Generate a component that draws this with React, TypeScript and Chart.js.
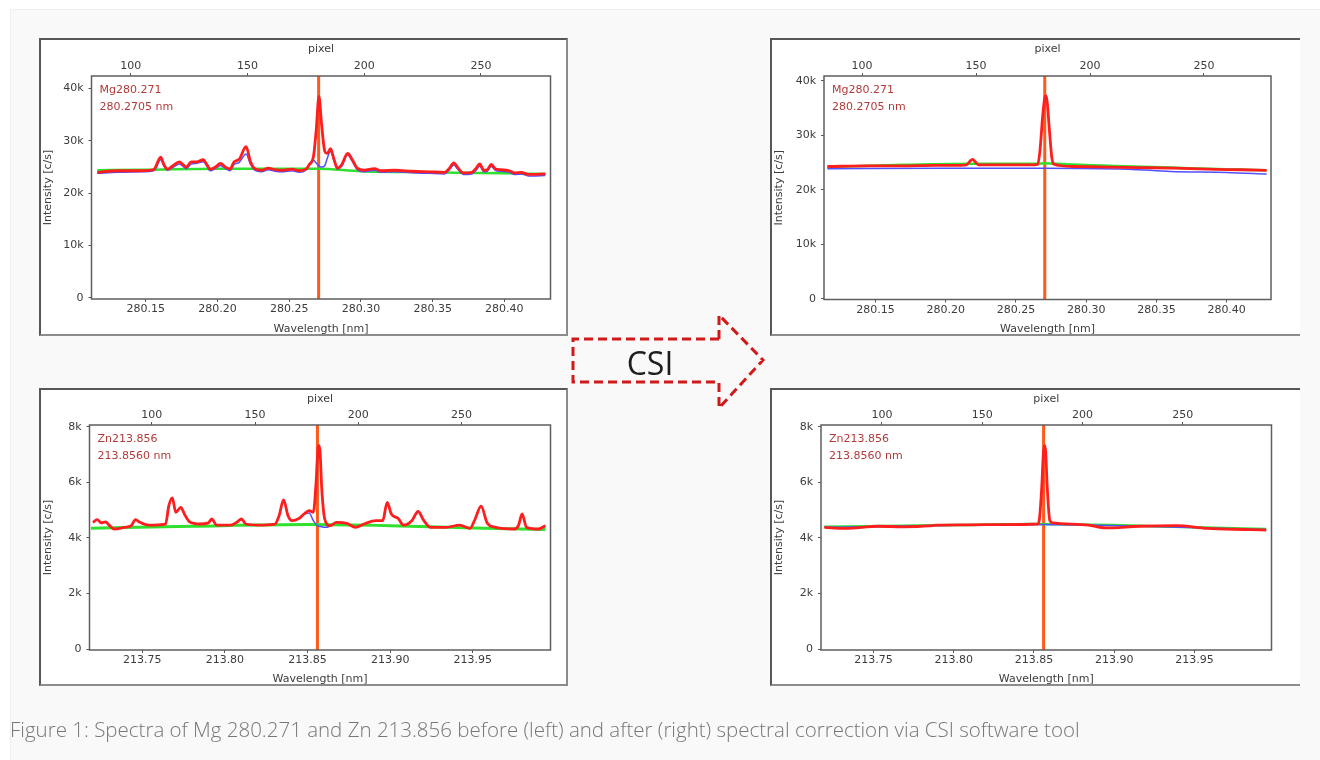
import React, { useEffect, useRef } from 'react';
import { Chart, registerables } from 'chart.js';

Chart.register(...registerables);

// ---------------- Data ----------------
const mgWlTicks = [280.15, 280.2, 280.25, 280.3, 280.35, 280.4];
const znWlTicks = [213.75, 213.8, 213.85, 213.9, 213.95];
const pixelTicks = [100, 150, 200, 250];
const mgIntensityTicks = [0, 10000, 20000, 30000, 40000];
const znIntensityTicks = [0, 2000, 4000, 6000, 8000];

const mgLineWl = 280.2705;
const znLineWl = 213.856;
const mgLabels = ['Mg280.271', '280.2705 nm'];
const znLabels = ['Zn213.856', '213.8560 nm'];

// Mg 280.271 before correction
const mgBeforeWl = [
  280.1161, 280.1304, 280.1471, 280.1555, 280.1567, 280.1603, 280.1626, 280.165, 280.1686, 280.1734,
  280.1758, 280.1781, 280.1817, 280.1853, 280.1901, 280.1925, 280.1948, 280.1984, 280.202, 280.2056,
  280.2087, 280.2115, 280.2151, 280.2199, 280.223, 280.2259, 280.2306, 280.2354, 280.2402, 280.2449,
  280.2521, 280.2569, 280.2616, 280.264, 280.2669, 280.2688, 280.2707, 280.2726, 280.2748, 280.2764,
  280.2788, 280.2812, 280.2836, 280.2867, 280.2907, 280.2938, 280.2974, 280.3022, 280.3094, 280.3141,
  280.3237, 280.3356, 280.3475, 280.3583, 280.3618, 280.3647, 280.3678, 280.3714, 280.3773, 280.3804,
  280.3828, 280.3857, 280.3881, 280.3909, 280.394, 280.3976, 280.4036, 280.4072, 280.4119, 280.4167,
  280.4286,
];
const mgBeforeRed = [
  24000, 24300, 24300, 24500, 25000, 26900, 25500, 24600, 25200, 26000,
  25500, 25000, 26000, 26000, 26400, 25500, 24600, 25000, 25700, 25000,
  24600, 26000, 26500, 28900, 26000, 24700, 24400, 24800, 24500, 24400,
  24600, 24300, 24600, 25500, 27000, 32000, 38500, 33000, 28000, 27600,
  28500, 26500, 24800, 25500, 27600, 26500, 24800, 24400, 24700, 24300,
  24400, 24200, 24100, 24000, 24800, 25800, 24800, 23900, 24000, 24800,
  25600, 24400, 24500, 25500, 24600, 24500, 24300, 23900, 24000, 23600,
  23700,
];
const mgBeforeBlue = [
  23800, 24000, 24100, 24300, 24600, 26400, 25200, 24400, 24900, 25600,
  25200, 24700, 25600, 25700, 26000, 25200, 24300, 24700, 25300, 24700,
  24300, 25500, 25900, 27500, 25500, 24400, 24100, 24500, 24200, 24100,
  24300, 24000, 24400, 25400, 26300, 25800, 25200, 25000, 25300, 26600,
  28000, 26200, 24600, 25200, 27300, 26200, 24500, 24100, 24400, 24000,
  24100, 23900, 23800, 23700, 24500, 25400, 24500, 23600, 23700, 24400,
  25200, 24100, 24200, 25100, 24300, 24200, 24000, 23600, 23700, 23300,
  23400,
];
const mgBeforeGreenWl = [280.1161, 280.15, 280.2, 280.27, 280.3, 280.35, 280.4, 280.4286];
const mgBeforeGreen = [24400, 24500, 24700, 24700, 24200, 24000, 23800, 23700];

// Mg 280.271 after correction
const mgAfterWl = [
  280.1157, 280.145, 280.1688, 280.193, 280.205, 280.2147, 280.217, 280.2191, 280.2212, 280.2232,
  280.2413, 280.26, 280.2655, 280.2672, 280.269, 280.2705, 280.2713, 280.2722, 280.2738, 280.2755,
  280.2771, 280.2896, 280.3138, 280.3379, 280.3621, 280.3862, 280.4104, 280.4285,
];
const mgAfterRed = [
  24300, 24400, 24400, 24500, 24500, 24600, 25200, 25600, 25100, 24600,
  24600, 24600, 24700, 27500, 33500, 36900, 37300, 36200, 31000, 26000,
  24700, 24300, 24200, 24100, 24000, 23800, 23700, 23600,
];
const mgAfterGreenWl = [280.1157, 280.17, 280.22, 280.265, 280.271, 280.285, 280.32, 280.36, 280.4, 280.4285];
const mgAfterGreen = [24200, 24600, 24800, 24800, 24900, 24700, 24400, 24100, 23800, 23600];
const mgAfterBlueWl = [280.1157, 280.2, 280.27, 280.33, 280.36, 280.4, 280.4285];
const mgAfterBlue = [23900, 24000, 24000, 23800, 23400, 23200, 22900];

// Zn 213.856 before correction
const znBeforeWl = [
  213.7202, 213.7227, 213.7252, 213.7278, 213.7299, 213.733, 213.7392, 213.7434, 213.7459, 213.7486,
  213.7537, 213.7641, 213.7661, 213.7682, 213.7703, 213.7734, 213.7755, 213.7786, 213.7848, 213.79,
  213.792, 213.7951, 213.8034, 213.8076, 213.81, 213.8127, 213.82, 213.8303, 213.8328, 213.8355,
  213.8382, 213.8407, 213.8448, 213.8479, 213.851, 213.8535, 213.8552, 213.856, 213.8568, 213.8576,
  213.8585, 213.8604, 213.8635, 213.8676, 213.8738, 213.879, 213.8842, 213.8914, 213.8955, 213.8982,
  213.9007, 213.9049, 213.908, 213.9131, 213.9169, 213.9204, 213.9245, 213.9338, 213.9421, 213.9483,
  213.9514, 213.955, 213.9587, 213.9639, 213.9753, 213.9777, 213.9798, 213.9825, 213.9898, 213.9939,
];
const znBeforeRed = [
  4560, 4660, 4540, 4580, 4460, 4320, 4380, 4440, 4660, 4560,
  4460, 4500, 5160, 5440, 4920, 5100, 4860, 4580, 4500, 4540,
  4680, 4460, 4460, 4580, 4680, 4500, 4460, 4500, 4800, 5370,
  4800, 4620, 4700, 4860, 4980, 4920, 6010, 6900, 7330, 7100,
  5890, 4680, 4440, 4560, 4520, 4380, 4500, 4620, 4620, 5280,
  4860, 4700, 4460, 4620, 4950, 4620, 4380, 4380, 4460, 4340,
  4680, 5140, 4540, 4380, 4320, 4460, 4860, 4380, 4320, 4440,
];
const znBeforeBlue = [
  4560, 4660, 4540, 4580, 4460, 4320, 4380, 4440, 4660, 4560,
  4460, 4500, 5160, 5440, 4920, 5100, 4860, 4580, 4500, 4540,
  4680, 4460, 4460, 4580, 4680, 4500, 4460, 4500, 4800, 5370,
  4800, 4620, 4700, 4860, 4900, 4620, 4480, 4450, 4420, 4410,
  4400, 4380, 4420, 4560, 4520, 4380, 4500, 4620, 4620, 5280,
  4860, 4700, 4460, 4620, 4950, 4620, 4380, 4380, 4460, 4340,
  4680, 5140, 4540, 4380, 4320, 4460, 4860, 4380, 4320, 4440,
];
const znBeforeGreenWl = [213.719, 213.78, 213.85, 213.9, 213.95, 213.994];
const znBeforeGreen = [4350, 4420, 4480, 4440, 4360, 4300];

// Zn 213.856 after correction
const znAfterWl = [
  213.7194, 213.7321, 213.7532, 213.7679, 213.7848, 213.789, 213.8101, 213.8312, 213.8523, 213.8534,
  213.8549, 213.8558, 213.8565, 213.8573, 213.8582, 213.8599, 213.8618, 213.884, 213.8945, 213.9156,
  213.9388, 213.9578, 213.9852, 213.9947,
];
const znAfterRed = [
  4380, 4340, 4420, 4400, 4430, 4460, 4470, 4480, 4500, 4680,
  5890, 7000, 7330, 7100, 5890, 4620, 4540, 4460, 4360, 4420,
  4440, 4340, 4300, 4280,
];
const znAfterGreenWl = [213.7194, 213.8, 213.85, 213.9, 213.95, 213.9947];
const znAfterGreen = [4400, 4460, 4500, 4460, 4380, 4320];
const znAfterBlueWl = [213.7194, 213.85, 213.9947];
const znAfterBlue = [4380, 4480, 4300];

const caption =
  'Figure 1: Spectra of Mg 280.271 and Zn 213.856 before (left) and after (right) spectral correction via CSI software tool';

// ---------------- Styles ----------------
const RED = '#ff1e1e';
const BLUE = '#5050ff';
const GREEN = '#2fe02f';
const ORANGE = '#ff5a1a';
const TEXT = '#3c3c3c';
const FONT = { family: 'DejaVu Sans', size: 11 };

type Series = { wl: number[]; values: number[]; color: string; width: number };
type PanelProps = {
  frame: { x: number; y: number; w: number; h: number; rightBorder: boolean };
  plot: { l: number; t: number; r: number; b: number };
  xRange: [number, number];
  pxRange: [number, number];
  yRange: [number, number];
  xTicks: number[];
  yTicks: number[];
  series: Series[];
  marker: number;
  labels: string[];
};

function SpectrumPanel(p: PanelProps) {
  const ref = useRef<HTMLCanvasElement>(null);
  useEffect(() => {
    const canvas = ref.current as HTMLCanvasElement;
    const leftW = p.plot.l - p.frame.x;
    const topH = p.plot.t - p.frame.y;
    const bottomH = p.frame.y + p.frame.h - p.plot.b;
    const padRight = p.frame.x + p.frame.w - p.plot.r;

    const datasets: any[] = p.series.map((s) => ({
      data: s.wl.map((x, i) => ({ x, y: s.values[i] })),
      borderColor: s.color,
      borderWidth: s.width,
      pointRadius: 0,
      fill: false,
      cubicInterpolationMode: 'monotone',
    }));
    datasets.push({
      data: [
        { x: p.marker, y: p.yRange[0] },
        { x: p.marker, y: p.yRange[1] },
      ],
      borderColor: ORANGE,
      borderWidth: 3,
      pointRadius: 0,
      fill: false,
    });

    const decor = {
      id: 'panelDecor',
      afterDatasetsDraw(chart: any) {
        const { ctx, chartArea: a } = chart;
        ctx.save();
        ctx.strokeStyle = '#5e5e5e';
        ctx.lineWidth = 1.5;
        ctx.strokeRect(a.left, a.top, a.right - a.left, a.bottom - a.top);
        ctx.fillStyle = '#b23a3a';
        ctx.font = '11px "DejaVu Sans"';
        ctx.textBaseline = 'middle';
        ctx.textAlign = 'left';
        p.labels.forEach((t, i) => ctx.fillText(t, a.left + 8, a.top + 14.5 + i * 16.5));
        ctx.restore();
      },
    };

    const tickGrid = { display: true, drawOnChartArea: false, drawTicks: true, tickLength: 3, color: '#555' };

    const chart = new Chart(canvas, {
      type: 'line',
      data: { datasets },
      plugins: [decor],
      options: {
        responsive: false,
        animation: false,
        events: [],
        layout: { padding: { left: 0, top: 0, right: padRight, bottom: 0 }, autoPadding: false },
        plugins: { legend: { display: false }, tooltip: { enabled: false } },
        scales: {
          x: {
            type: 'linear',
            position: 'bottom',
            min: p.xRange[0],
            max: p.xRange[1],
            afterBuildTicks: (s: any) => {
              s.ticks = p.xTicks.map((v) => ({ value: v }));
            },
            afterFit: (s: any) => {
              s.height = bottomH;
            },
            ticks: {
              callback: (v: any) => Number(v).toFixed(2),
              font: FONT,
              color: TEXT,
              padding: 1,
              maxRotation: 0,
              autoSkip: false,
            },
            grid: tickGrid,
            border: { display: false },
            title: { display: true, text: 'Wavelength [nm]', font: FONT, color: TEXT, padding: { top: 0, bottom: 0 } },
          },
          xTop: {
            type: 'linear',
            position: 'top',
            min: p.pxRange[0],
            max: p.pxRange[1],
            afterBuildTicks: (s: any) => {
              s.ticks = pixelTicks.map((v) => ({ value: v }));
            },
            afterFit: (s: any) => {
              s.height = topH;
            },
            ticks: {
              callback: (v: any) => String(v),
              font: FONT,
              color: TEXT,
              padding: 0,
              maxRotation: 0,
              autoSkip: false,
            },
            grid: tickGrid,
            border: { display: false },
            title: { display: true, text: 'pixel', font: FONT, color: TEXT, padding: { top: 5, bottom: 0 } },
          },
          y: {
            type: 'linear',
            position: 'left',
            min: p.yRange[0],
            max: p.yRange[1],
            afterBuildTicks: (s: any) => {
              s.ticks = p.yTicks.map((v) => ({ value: v }));
            },
            afterFit: (s: any) => {
              s.width = leftW;
            },
            ticks: {
              callback: (v: any) => (Number(v) === 0 ? '0' : `${Number(v) / 1000}k`),
              font: FONT,
              color: TEXT,
              padding: 5,
              autoSkip: false,
            },
            grid: tickGrid,
            border: { display: false },
            title: { display: true, text: 'Intensity [c/s]', font: FONT, color: TEXT, padding: { top: 3, bottom: 0 } },
          },
        },
      } as any,
    });
    return () => chart.destroy();
  }, []);

  const f = p.frame;
  return (
    <>
      <div
        style={{
          position: 'absolute',
          left: f.x,
          top: f.y,
          width: f.w,
          height: f.h,
          boxSizing: 'border-box',
          background: '#ffffff',
          borderTop: '2px solid #575757',
          borderLeft: '2px solid #575757',
          borderBottom: '2px solid #8c8c8c',
          borderRight: f.rightBorder ? '2px solid #8c8c8c' : 'none',
        }}
      />
      <canvas
        ref={ref}
        width={f.w}
        height={f.h}
        style={{ position: 'absolute', left: f.x, top: f.y, width: f.w, height: f.h }}
      />
    </>
  );
}

export default function App() {
  return (
    <div
      style={{
        position: 'absolute',
        left: 0,
        top: 0,
        width: 1320,
        height: 760,
        background: '#ffffff',
        overflow: 'hidden',
      }}
    >
      <div
        style={{
          position: 'absolute',
          left: 10,
          top: 9,
          width: 1310,
          height: 751,
          background: '#f9f9f9',
          borderLeft: '1px solid #efefef',
          borderTop: '1px solid #efefef',
          boxSizing: 'border-box',
        }}
      />
      <SpectrumPanel
        frame={{ x: 39, y: 38, w: 529, h: 298, rightBorder: true }}
        plot={{ l: 91.5, t: 76, r: 550.5, b: 299 }}
        xRange={[280.1121, 280.4322]}
        pxRange={[83.2, 279.8]}
        yRange={[-200, 42400]}
        xTicks={mgWlTicks}
        yTicks={mgIntensityTicks}
        series={[
          { wl: mgBeforeWl, values: mgBeforeRed, color: RED, width: 2.8 },
          { wl: mgBeforeWl, values: mgBeforeBlue, color: BLUE, width: 1.5 },
          { wl: mgBeforeGreenWl, values: mgBeforeGreen, color: GREEN, width: 2.5 },
        ]}
        marker={mgLineWl}
        labels={mgLabels}
      />
      <SpectrumPanel
        frame={{ x: 770, y: 38, w: 530, h: 298, rightBorder: false }}
        plot={{ l: 824, t: 76, r: 1271, b: 299.5 }}
        xRange={[280.1133, 280.4316]}
        pxRange={[83.3, 279.4]}
        yRange={[-100, 40900]}
        xTicks={mgWlTicks}
        yTicks={mgIntensityTicks}
        series={[
          { wl: mgAfterWl, values: mgAfterRed, color: RED, width: 2.8 },
          { wl: mgAfterBlueWl, values: mgAfterBlue, color: BLUE, width: 1.5 },
          { wl: mgAfterGreenWl, values: mgAfterGreen, color: GREEN, width: 2.5 },
        ]}
        marker={mgLineWl}
        labels={mgLabels}
      />
      <SpectrumPanel
        frame={{ x: 39, y: 388, w: 529, h: 298, rightBorder: true }}
        plot={{ l: 89.5, t: 425, r: 550.5, b: 650 }}
        xRange={[213.7181, 213.997]}
        pxRange={[69.8, 293.1]}
        yRange={[-30, 8060]}
        xTicks={znWlTicks}
        yTicks={znIntensityTicks}
        series={[
          { wl: znBeforeWl, values: znBeforeRed, color: RED, width: 2.8 },
          { wl: znBeforeWl, values: znBeforeBlue, color: BLUE, width: 1.5 },
          { wl: znBeforeGreenWl, values: znBeforeGreen, color: GREEN, width: 3 },
        ]}
        marker={znLineWl}
        labels={znLabels}
      />
      <SpectrumPanel
        frame={{ x: 770, y: 388, w: 530, h: 298, rightBorder: false }}
        plot={{ l: 821, t: 425, r: 1271.5, b: 650 }}
        xRange={[213.7173, 213.998]}
        pxRange={[69.6, 294.2]}
        yRange={[-30, 8060]}
        xTicks={znWlTicks}
        yTicks={znIntensityTicks}
        series={[
          { wl: znAfterWl, values: znAfterRed, color: RED, width: 2.8 },
          { wl: znAfterBlueWl, values: znAfterBlue, color: BLUE, width: 1.5 },
          { wl: znAfterGreenWl, values: znAfterGreen, color: GREEN, width: 2.5 },
        ]}
        marker={znLineWl}
        labels={znLabels}
      />
      <svg
        width={1320}
        height={760}
        style={{ position: 'absolute', left: 0, top: 0, pointerEvents: 'none' }}
      >
        <path
          d="M 719 339 L 573 339 L 573 382 L 719 382 L 719 408 L 763 360 L 719 315 Z"
          fill="none"
          stroke="#d01a1a"
          strokeWidth={3}
          strokeDasharray="9 5"
        />
        <text
          x={650}
          y={362}
          textAnchor="middle"
          dominantBaseline="central"
          fontFamily="'Open Sans', sans-serif"
          fontSize={32}
          fill="#1e1e1e"
        >
          CSI
        </text>
      </svg>
      <div
        style={{
          position: 'absolute',
          left: 10,
          top: 717,
          fontFamily: "'Open Sans', sans-serif",
          fontWeight: 300,
          fontSize: 20.5,
          lineHeight: '24px',
          color: '#777777',
          whiteSpace: 'nowrap',
        }}
      >
        {caption}
      </div>
    </div>
  );
}
